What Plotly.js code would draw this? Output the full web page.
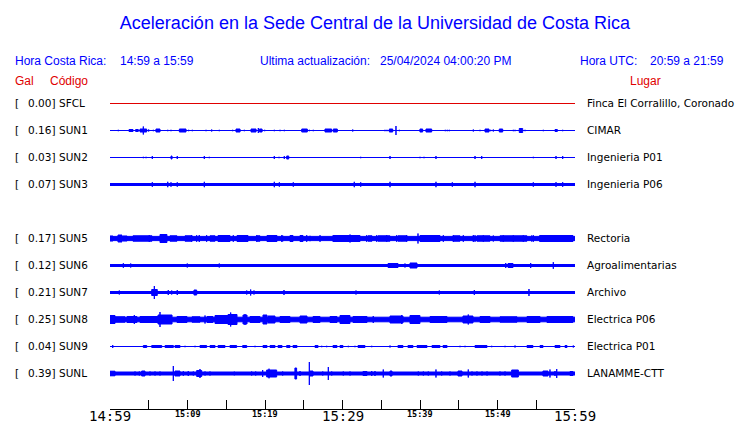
<!DOCTYPE html>
<html>
<head>
<meta charset="utf-8">
<script src="https://cdn.plot.ly/plotly-3.0.1.min.js"></script>
<style>html,body{margin:0;padding:0;background:#fff;}#chart{width:740px;height:423px;}</style>
</head>
<body>
<div id="chart"></div>
<script>
// ---------------- DATA ----------------
const codes  = ['SFCL','SUN1','SUN2','SUN3','SUN5','SUN6','SUN7','SUN8','SUN9','SUNL'];
const galMax = [0.00, 0.16, 0.03, 0.07, 0.17, 0.12, 0.21, 0.25, 0.04, 0.39];
const places = ['Finca El Corralillo, Coronado','CIMAR','Ingenieria P01','Ingenieria P06',
                'Rectoria','Agroalimentarias','Archivo','Electrica P06','Electrica P01','LANAMME-CTT'];
const rowSlot = [0,1,2,3,5,6,7,8,9,10];
// background (continuous) half-amplitude of each trace, in display amplitude units
const baseAmp = [0.5, 0.5, 0.5, 1.5, 2.6, 1.5, 1.5, 2.8, 0.5, 2.0];

const tickMinutes = [0,5,10,15,20,25,30,35,40,45,50,55,60];
const majorLabels = [[0,'14:59'],[30,'15:29'],[60,'15:59']];
const minorLabels = [[10,'15:09'],[20,'15:19'],[40,'15:39'],[50,'15:49']];

// events: [minute after 14:59, duration (min), half-amplitude]
const ev_SFCL = [];
const ev_SUN1 = [[1.07,0,1.2],[2.71,0.52,1.5],[3.48,0.34,1.5],[4.30,0.86,2],[4.30,0,4.5],[4.99,0,1.5],
 [5.59,0,1.2],[6.19,0.52,2],[7.45,0,1.2],[7.87,0,1.2],[9.38,0.86,2],[10.15,0,1.2],[10.62,0,1.2],
 [12.39,0,1.2],[13.12,0,1.5],[14.10,0,1.2],[15.83,0,1.2],[16.52,0.52,2],[17.33,0,1.2],[18.52,0.65,2],
 [19.14,0,3],[19.45,0.35,2],[19.96,0,1.2],[21.20,0,1.2],[21.94,0,1.2],[22.49,0,1.2],[25.10,0.72,2],
 [25.72,0,1.2],[26.23,0,1.2],[28.17,0.86,2],[29.07,0.52,2],[31.32,0,1.5],[35.48,0,1.2],[35.74,0,1.2],
 [36.26,0.44,2],[36.90,0,5],[37.33,0,1.2],[40.17,0.35,2],[41.14,0.74,2],[43.26,0,1.2],[43.52,0,1.2],
 [43.78,0,1.2],[46.88,0,1.5],[47.74,0,1.2],[48.65,0.52,2],[49.12,0,1.2],[49.46,0,1.5],[50.45,0.44,2],
 [52.04,0,1.2],[52.26,0,1.2],[53.03,0.44,2.5],[53.55,0,1.2],[55.91,0,1.2],[57.57,0.30,1.5],[58.41,0,1.2]];
const ev_SUN2 = [[4.30,0,1.2],[4.65,0,1.2],[5.46,0,2],[7.94,0.13,2],[8.68,0,2],[12.17,0,2],[12.81,0,1.2],
 [21.20,0,2],[21.81,0,1.2],[22.49,0,2],[22.93,0.26,2],[32.35,0,1.2],[36.13,0,2],[40.00,0,1.2],[40.52,0,1.2],
 [42.06,0,2],[47.10,0,2],[47.96,0,2],[54.62,0,1.2],[57.55,0,2],[58.41,0,2]];
const ev_SUN3 = [[5.46,0,2.8],[7.45,0,3.2],[7.87,0,2.7],[8.68,0,2.7],[12.17,0,3.2],[21.20,0,3.2],[21.85,0,2.7],
 [23.65,0,2.7],[31.52,0,3.2],[32.35,0,2.7],[36.13,0,3.2],[42.06,0,3.2],[44.17,0,2.7],[47.10,0,3.2],
 [54.62,0,2.7],[57.55,0,2.8],[58.41,0,2.8]];
const ev_SUN5 = [[0.19,0.39,3],[1.29,0.52,4],[1.94,0.52,3],[4.19,2.45,3.2],[5.07,0,4],[6.90,0.90,4.5],
 [8.19,0.90,3.2],[10.13,0.90,3.2],[11.52,0,4],[13.23,0.65,3.2],[14.71,1.55,3.5],[17.10,1.42,3.5],[17.51,0,4],
 [19.16,0.39,3.2],[20.90,1.29,3.5],[22.28,0,3.5],[23.42,0.39,3.5],[24.71,0.39,3.5],[25.81,0,3.2],
 [29.74,1.94,3.5],[30.97,2.58,3.5],[30.97,0,4.5],[31.39,0,4],[33.55,0.52,3.2],[35.35,1.55,3.2],[37.74,1.16,3.2],
 [39.74,0,5.5],[41.29,2.58,3.5],[44.71,0.90,3.2],[46.88,0,4],[48.19,1.68,3.2],[49.46,0,3.5],[52.06,3.48,3.2],
 [54.41,0,3.5],[57.61,4.26,3.5],[56.77,0,4],[57.42,0,4],[58.49,0,4],
 [10.54,0,3.8],[11.18,0,3.8],[12.47,0,3.8],[15.05,0,3.8],[15.91,0,3.8],[18.92,0,3.8],[20.43,0,3.8],
 [22.15,0,3.8],[23.44,0,3.8],[25.38,0,3.8],[27.10,0,3.8],[28.82,0,3.8],[29.68,0,3.8],[33.12,0,3.8],
 [34.41,0,3.8],[35.70,0,3.8],[36.99,0,3.8],[38.28,0,3.8],[41.29,0,3.8],[43.01,0,3.8],[44.30,0,3.8],
 [45.59,0,3.8],[47.10,0,3.8],[48.17,0,3.8],[50.75,0,3.8],[52.04,0,3.8],[53.33,0,3.8],[54.62,0,3.8],
 [55.48,0,3.8],[58.49,0,3.8]];
const ev_SUN6 = [[0.43,0,2],[1.72,0,2.8],[2.67,0,2.5],[9.97,0,2.5],[14.10,0,2.5],[20.22,0,2],[22.80,0,2],
 [36.52,1.29,2.5],[38.06,0,2.5],[39.16,0.90,3],[44.30,0,2],[51.06,0,3],[51.68,0.65,2.5],[54.28,0,3],[57.20,0,3.8]];
const ev_SUN7 = [[1.20,0,2.5],[4.30,0,2],[5.74,0.72,3.5],[5.72,0,7],[7.52,0,3],[7.96,0,2.5],[8.68,0,3],
 [11.01,0.35,3],[13.33,0,2],[15.70,0,2],[16.68,0,2],[17.64,0,2.5],[18.15,0,3.5],[18.58,0,2.5],[22.45,0,3],
 [24.74,0,2],[29.25,0,2],[31.74,0,2.5],[34.97,0,1.8],[37.12,0,2],[39.57,0,2],[40.22,0,1.8],[42.49,0,2.5],
 [44.30,0,1.8],[45.59,0,1.8],[47.01,0,3],[50.32,0,1.8],[54.06,0,4],[54.62,0,2],[56.35,0,2],[57.20,0,2],[58.06,0,2]];
const ev_SUN8 = [[0.32,0.65,4.5],[1.29,1.29,3.2],[2.84,1.29,3.5],[3.14,0,5],[5.03,2.32,3.5],[5.59,0,4],
 [7.10,1.81,5],[6.45,0,8],[9.29,1.29,3.5],[11.10,1.03,3.2],[12.26,0,4.5],[12.90,0.77,3.5],[14.39,1.68,4.5],
 [15.81,1.16,5.5],[15.57,0,7.5],[17.42,0.52,5],[17.42,0,6],[18.71,1.29,3.5],[20.00,0.52,5],[20.84,0.90,4],
 [22.58,1.29,3.5],[24.97,0.90,4],[26.65,0.90,3.5],[28.84,0.90,3.5],[30.32,1.29,4.5],[32.26,1.81,3.5],
 [33.97,0,4],[36.97,1.68,4],[37.64,0,5],[39.35,1.29,4.5],[42.39,2.19,3.5],[43.01,0,4],[46.19,1.29,4],
 [46.23,0,5.5],[48.39,1.29,3.5],[51.42,2.19,3.2],[54.65,1.68,3.5],[58.06,3.35,3.5]];
const ev_SUN9 = [[0.35,0,2],[4.52,0.44,1.5],[6.03,1.29,1.5],[7.64,1.07,1.5],[8.71,0.65,1.5],[9.68,0,1.2],
 [10.97,0,1.2],[12.04,0.86,1.5],[13.23,0.65,1.5],[14.39,0.90,1.5],[15.91,0.86,1.5],[17.38,0.52,1.5],
 [18.71,0,1.2],[20.00,0.52,1.5],[20.97,0.65,1.5],[21.94,0.52,1.5],[23.01,0.43,1.5],[23.87,0.52,1.5],
 [26.65,0.39,1.5],[27.32,0,1.2],[27.96,0,1.2],[29.03,0.52,1.5],[29.87,0.39,1.5],[30.75,0,1.2],[31.61,0,1.2],
 [32.45,0.90,1.5],[33.77,0,1.2],[36.13,0,1.5],[37.48,0.65,1.5],[38.77,0.65,1.5],[40.26,1.29,1.5],
 [42.06,1.03,1.5],[43.23,0.52,1.5],[45.16,0,1.2],[45.81,0,1.2],[47.87,1.55,1.5],[49.25,0,1.2],[50.97,0,1.2],
 [52.26,0,1.5],[54.19,0.77,1.5],[55.68,0.39,1.5],[57.74,0.65,1.5],[58.84,0.26,1.5],[59.78,0,1.5]];
const ev_SUNL = [[0.32,0.65,2.8],[3.23,0,2.5],[3.78,0,2.5],[4.30,0.43,3],[5.16,0,2.5],[5.81,0,2.5],[6.45,0,2.5],
 [8.17,0,8],[8.71,0.65,3],[9.46,0,2.8],[10.10,0,3],[10.75,0,2.5],[11.51,0.65,3.5],[11.61,0,5],[12.26,0,2.5],
 [12.90,0,2.5],[16.04,0,2.3],[18.28,0,2.5],[18.80,0,2.5],[19.70,0,4],[20.86,1.29,4],[20.52,0,5.3],[22.28,0,2.5],
 [23.97,0.22,6],[24.52,0,3],[25.72,0,12],[26.00,0.39,3],[27.45,0,2.5],[28.17,0,7],[28.61,0,2.5],[30.10,0,2.5],
 [30.97,0,2.5],[32.90,0.52,2.5],[33.77,0,3],[34.19,0,3],[35.26,0,4.5],[36.26,0.26,3],[39.78,0,2.5],
 [40.43,0,2.5],[41.07,0,2.5],[42.06,0,4.5],[42.80,0,2.5],[43.87,0,2.5],[45.16,0.52,3],[46.23,0,4.5],
 [46.71,0,2.5],[47.35,0,2.5],[48.00,0,2.5],[48.65,0,2.5],[50.32,0,2.5],[50.97,0,2.5],[52.26,0.86,4],
 [56.19,0.65,3],[56.77,0,4.5],[57.42,0,3],[57.64,0,5],[59.55,0.39,2.5]];
const stationEvents = [ev_SFCL,ev_SUN1,ev_SUN2,ev_SUN3,ev_SUN5,ev_SUN6,ev_SUN7,ev_SUN8,ev_SUN9,ev_SUNL];

// ---------------- LAYOUT HELPERS ----------------
const W = 740, H = 423;
const PL = 110, PR = 575, PT = 90, PB = 409;   // plot area in pixels
const ROW_PX = 27, ROW0_PX = 103.5;
const AMP = 1 / ROW_PX;                          // amplitude unit -> row units
const px = x => (x - PL) / (PR - PL);
const py = y => (PB - y) / (PB - PT);
const BLUE = '#0000ff', RED = '#e00000';

const traces = codes.map((c, i) => {
  const xs = [], ys = [], r = rowSlot[i];
  const rect = (x0, x1, a) => {
    const h = Math.max(a - 0.5, 0) * AMP;
    xs.push(x0, x1, x1, x0, x0, null);
    ys.push(r - h, r - h, r + h, r + h, r - h, null);
  };
  rect(0, 60, baseAmp[i]);
  stationEvents[i].forEach(([t, w, a]) => rect(t - w / 2, t + w / 2, a));
  const col = c === 'SFCL' ? RED : BLUE;
  return {type: 'scatter', mode: 'lines', x: xs, y: ys, fill: 'toself', fillcolor: col,
          line: {color: col, width: 1}, hoverinfo: 'skip', showlegend: false, name: c};
});

const HFONT = 'Liberation Sans, Arial, sans-serif';
const LFONT = 'DejaVu Sans, sans-serif';
const MFONT = 'DejaVu Sans Mono, monospace';
const ann = [];
const txt = (x, y, text, color, size, family, anchor) => ann.push({
  xref: 'paper', yref: 'paper', x: px(x), y: py(y), text, showarrow: false,
  xanchor: anchor || 'left', yanchor: 'middle', font: {color, size, family}
});
txt(13, 61, 'Hora Costa Rica:', BLUE, 12, HFONT);
txt(118, 61, '14:59 a 15:59', BLUE, 12, HFONT);
txt(258, 61, 'Ultima actualización:', BLUE, 12, HFONT);
txt(378, 61, '25/04/2024 04:00:20 PM', BLUE, 12, HFONT);
txt(578, 61, 'Hora UTC:', BLUE, 12, HFONT);
txt(648, 61, '20:59 a 21:59', BLUE, 12, HFONT);
txt(13, 81, 'Gal', RED, 12, HFONT);
txt(48, 81, 'Código', RED, 12, HFONT);
txt(628, 81, 'Lugar', RED, 12, HFONT);

codes.forEach((c, i) => {
  const y = ROW0_PX + ROW_PX * rowSlot[i] - 0.5;
  txt(13, y, '[', '#000', 10.5, LFONT);
  txt(26, y, galMax[i].toFixed(2) + ']', '#000', 10.5, LFONT);
  txt(57, y, c, '#000', 10.5, LFONT);
  txt(585, y, places[i], '#000', 10.5, LFONT);
});
majorLabels.forEach(([m, s]) => ann.push({xref: 'x', yref: 'paper', x: m, y: py(416), text: s,
  showarrow: false, xanchor: 'center', yanchor: 'middle', font: {size: 14, family: MFONT, color: '#000'}}));
minorLabels.forEach(([m, s]) => ann.push({xref: 'x', yref: 'paper', x: m, y: py(414), text: s,
  showarrow: false, xanchor: 'center', yanchor: 'middle', font: {size: 8.5, family: MFONT, color: '#000', weight: 'bold'}}));

const layout = {
  width: W, height: H,
  margin: {l: PL, r: W - PR, t: PT, b: H - PB, pad: 0},
  paper_bgcolor: '#fff', plot_bgcolor: '#fff',
  title: {text: 'Aceleración en la Sede Central de la Universidad de Costa Rica',
          font: {family: HFONT, size: 18, color: BLUE},
          xref: 'container', yref: 'container', x: 375 / W, xanchor: 'center',
          y: 1 - 23 / H, yanchor: 'middle'},
  xaxis: {range: [0, 60], showgrid: false, zeroline: false, showline: true, linecolor: '#000',
          linewidth: 1, ticks: 'inside', ticklen: 9, tickwidth: 1, tickcolor: '#000',
          tickmode: 'array', tickvals: tickMinutes, showticklabels: false, fixedrange: true},
  yaxis: {range: [(PB - ROW0_PX) / ROW_PX, (PT - ROW0_PX) / ROW_PX], showgrid: false, zeroline: false,
          showline: false, showticklabels: false, ticks: '', fixedrange: true},
  annotations: ann,
  showlegend: false
};
Plotly.newPlot('chart', traces, layout, {displayModeBar: false, staticPlot: true});
</script>
</body>
</html>
